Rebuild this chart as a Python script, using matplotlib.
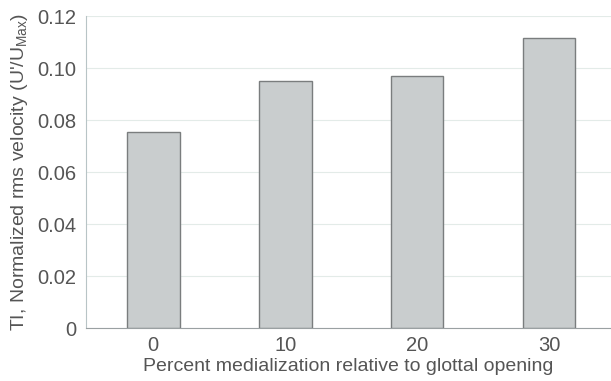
import matplotlib
matplotlib.use('Agg')
import matplotlib.pyplot as plt
import numpy as np

# Données
categories = ['0', '10', '20', '30']
valeurs = [0.0754, 0.095, 0.097, 0.1115]
yticks = [0, 0.02, 0.04, 0.06, 0.08, 0.10, 0.12]
ytick_labels = ['0', '0.02', '0.04', '0.06', '0.08', '0.10', '0.12']

plt.rcParams['font.family'] = ['Liberation Sans', 'DejaVu Sans']
texte = '#555555'

fig = plt.figure(figsize=(6.11, 3.81), dpi=100)
ax = fig.add_axes([0.1408, 0.139, 0.8592, 0.819])

x = np.arange(len(categories))
ax.bar(x, valeurs, width=0.4, color='#c9cdce', edgecolor='#7a7d7e', linewidth=1.0, zorder=3)

ax.set_xlim(-0.51, 3.47)
ax.set_ylim(0, 0.12)
ax.set_yticks(yticks)
ax.set_yticklabels(ytick_labels)
ax.set_xticks(x)
ax.set_xticklabels(categories)
ax.grid(axis='y', color='#e3ebe8', linewidth=0.8, zorder=0)

ax.tick_params(axis='both', length=0, labelsize=14.5, colors=texte)
ax.tick_params(axis='y', pad=7)
ax.tick_params(axis='x', pad=6)

for s in ['top', 'right']:
    ax.spines[s].set_visible(False)
ax.spines['left'].set_color('#b8c4c6')
ax.spines['bottom'].set_color('#9aa0a2')

ax.set_xlabel('Percent medialization relative to glottal opening', fontsize=14, color=texte, labelpad=2)
ax.set_ylabel("TI, Normalized rms velocity (U'/U$_{\\mathregular{Max}}$)", fontsize=14, color=texte, labelpad=5)

fig.savefig('out.png', dpi=100)
